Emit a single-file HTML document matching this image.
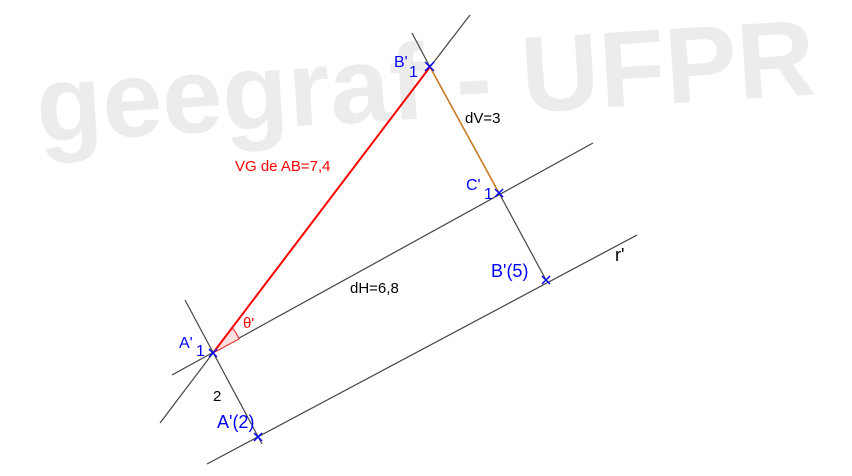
<!DOCTYPE html>
<html><head><meta charset="utf-8"><style>
html,body{margin:0;padding:0;background:#fff;width:852px;height:476px;overflow:hidden}
</style></head><body>
<svg width="852" height="476" viewBox="0 0 852 476" xmlns="http://www.w3.org/2000/svg" font-family="Liberation Sans, sans-serif">
<text x="35" y="118" font-size="108" font-weight="bold" fill="#ececec" transform="rotate(-3.5 430 75)">geegraf - UFPR</text>
<g stroke="#444" stroke-width="1.2" fill="none">
<line x1="172" y1="375" x2="593" y2="143"/>
<line x1="207" y1="464" x2="637" y2="235"/>
<line x1="185" y1="300" x2="262" y2="444"/>
<line x1="160" y1="423" x2="213" y2="353"/>
<line x1="430" y1="67" x2="470" y2="15"/>
<line x1="412" y1="33" x2="430" y2="67"/>
<line x1="499" y1="193" x2="546" y2="280"/>
</g>
<path d="M213 353 L232 328 A30 30 0 0 1 239 339 Z" fill="#fde0e0" stroke="#e33" stroke-width="1.2"/>
<line x1="213" y1="353" x2="430" y2="67" stroke="#f00" stroke-width="2"/>
<line x1="430" y1="67" x2="499" y2="193" stroke="#c87a20" stroke-width="1.6"/>
<g stroke="#00f" stroke-width="1.5">
<path d="M209 349l8 8M217 349l-8 8"/>
<path d="M425 62l9 9M434 62l-9 9"/>
<path d="M495 189l8 8M503 189l-8 8"/>
<path d="M254 433l8 8M262 433l-8 8"/>
<path d="M542 276l8 8M550 276l-8 8"/>
</g>
<g font-size="16">
<text x="179" y="348" fill="#00f">A'</text><text x="196" y="356" fill="#00f">1</text>
<text x="394" y="67" fill="#00f">B'</text><text x="409" y="77" fill="#00f">1</text>
<text x="466" y="190" fill="#00f">C'</text><text x="484" y="199" fill="#00f">1</text>
<text x="217" y="428" fill="#00f" font-size="18">A'(2)</text>
<text x="491" y="277" fill="#00f" font-size="18">B'(5)</text>
<text x="465" y="123" fill="#000" font-size="15">dV=3</text>
<text x="235" y="171" fill="#f00" font-size="15">VG de AB=7,4</text>
<text x="350" y="293" fill="#000" font-size="15">dH=6,8</text>
<text x="243" y="328" fill="#f00" font-size="15">θ'</text>
<text x="213" y="401" fill="#000" font-size="15">2</text>
<text x="615" y="261" fill="#000" font-size="18">r'</text>
</g>
</svg>
</body></html>
